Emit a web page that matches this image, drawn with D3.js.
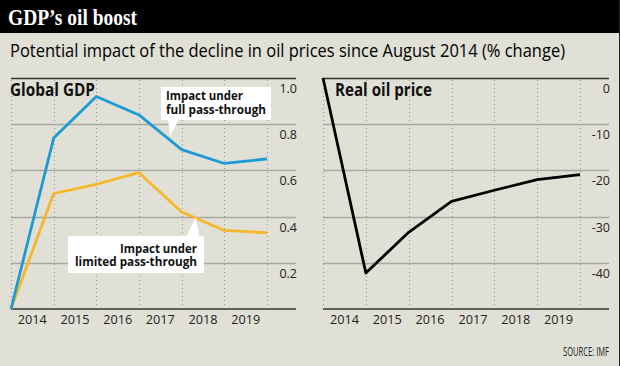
<!DOCTYPE html>
<html>
<head>
<meta charset="utf-8">
<script src="https://cdn.jsdelivr.net/npm/d3@7"></script>
<style>
  html, body { margin: 0; padding: 0; background: #e1e0d6; }
  svg { display: block; font-family: "Open Sans", sans-serif; }
</style>
</head>
<body>
<div id="chart"></div>
<script>
// Data
const boundaries = [2014, 2015, 2016, 2017, 2018, 2019, 2020];
const yearLabels = ['2014', '2015', '2016', '2017', '2018', '2019'];
const fullPassThrough = [0, 0.74, 0.92, 0.84, 0.69, 0.63, 0.65];
const limitedPassThrough = [0, 0.50, 0.54, 0.59, 0.42, 0.34, 0.33];
const oilPrice = [0, -42.2, -33.4, -26.7, -24.3, -22.0, -20.9];
const gdpTicks = [0.2, 0.4, 0.6, 0.8, 1.0];
const oilTicks = [-40, -30, -20, -10, 0];

const width = 620, height = 366;
const bg = '#e1e0d6';

const svg = d3.select('#chart')
    .append('svg')
    .attr('width', width)
    .attr('height', height);

svg.append('rect')
    .attr('width', width)
    .attr('height', height)
    .attr('fill', bg);

// Title bar
svg.append('rect')
    .attr('width', width)
    .attr('height', 33)
    .attr('fill', '#000');

svg.append('text')
    .attr('x', 8)
    .attr('y', 25)
    .attr('fill', '#fff')
    .style('font-family', '"Liberation Serif", serif')
    .style('font-weight', 'bold')
    .style('font-size', '24px')
    .attr('textLength', 129)
    .attr('lengthAdjust', 'spacingAndGlyphs')
    .text('GDP\u2019s oil boost');

svg.append('text')
    .attr('x', 10)
    .attr('y', 57)
    .attr('fill', '#000')
    .style('font-size', '18px')
    .style('font-weight', 500)
    .attr('textLength', 555)
    .attr('lengthAdjust', 'spacingAndGlyphs')
    .text('Potential impact of the decline in oil prices since August 2014 (% change)');

// right edge border
svg.append('line')
    .attr('x1', 619.5).attr('x2', 619.5)
    .attr('y1', 0).attr('y2', height)
    .attr('stroke', '#222')
    .attr('stroke-width', 1);

// Panel helper
function drawPanel(opts) {
    const x = d3.scaleLinear().domain([2014, 2020]).range([opts.x0, opts.x1]);
    const y = d3.scaleLinear().domain(opts.domain).range([309, 78]);
    const g = svg.append('g');

    // horizontal gridlines
    g.selectAll('.hgrid')
        .data(opts.ticks.filter(t => t !== opts.domain[1]))
        .enter()
        .append('line')
        .attr('x1', opts.x0).attr('x2', opts.axisEnd)
        .attr('y1', d => Math.round(y(d)) + 0.5)
        .attr('y2', d => Math.round(y(d)) + 0.5)
        .attr('stroke', '#a9a8a0')
        .attr('stroke-width', 1.5);

    // vertical dotted gridlines
    g.selectAll('.vgrid')
        .data(boundaries)
        .enter()
        .append('line')
        .attr('x1', d => Math.round(x(d)) + 0.5)
        .attr('x2', d => Math.round(x(d)) + 0.5)
        .attr('y1', 80).attr('y2', 308)
        .attr('stroke', '#9a9a92')
        .attr('stroke-width', 1)
        .attr('stroke-dasharray', '1,3');

    // top line
    g.append('line')
        .attr('x1', opts.x0).attr('x2', opts.axisEnd)
        .attr('y1', 78.5).attr('y2', 78.5)
        .attr('stroke', '#333')
        .attr('stroke-width', 1.5);

    // baseline
    g.append('line')
        .attr('x1', opts.x0).attr('x2', opts.axisEnd)
        .attr('y1', 309).attr('y2', 309)
        .attr('stroke', '#333')
        .attr('stroke-width', 1.5);

    // y tick labels
    g.selectAll('.ylab')
        .data(opts.ticks)
        .enter()
        .append('text')
        .attr('x', opts.axisEnd + 1)
        .attr('y', d => y(d) + 15)
        .attr('text-anchor', 'end')
        .attr('fill', '#222')
        .style('font-size', '12.5px')
        .text(opts.tickFormat);

    // x labels
    g.selectAll('.xlab')
        .data(yearLabels)
        .enter()
        .append('text')
        .attr('x', d => x(+d + 0.5))
        .attr('y', 324)
        .attr('text-anchor', 'middle')
        .attr('fill', '#222')
        .style('font-size', '13px')
        .attr('textLength', 29)
        .attr('lengthAdjust', 'spacingAndGlyphs')
        .text(d => d);

    // panel label
    g.append('text')
        .attr('x', opts.labelX)
        .attr('y', 96)
        .attr('fill', '#111')
        .style('font-size', '17px')
        .style('font-weight', 'bold')
        .attr('textLength', opts.labelW)
        .attr('lengthAdjust', 'spacingAndGlyphs')
        .text(opts.label);

    return { x, y, g };
}

const line = (x, y) => d3.line()
    .x((d, i) => x(boundaries[i]))
    .y(d => y(d));

// Left panel: Global GDP
const left = drawPanel({
    x0: 11, x1: 267, axisEnd: 296,
    domain: [0, 1], ticks: gdpTicks,
    tickFormat: d => d.toFixed(1),
    label: 'Global GDP', labelX: 10, labelW: 85
});

left.g.append('path')
    .datum(limitedPassThrough)
    .attr('fill', 'none')
    .attr('stroke', '#f6b72a')
    .attr('stroke-width', 2.8)
    .attr('stroke-linejoin', 'round')
    .attr('d', line(left.x, left.y));

left.g.append('path')
    .datum(fullPassThrough)
    .attr('fill', 'none')
    .attr('stroke', '#1b9ad6')
    .attr('stroke-width', 2.8)
    .attr('stroke-linejoin', 'round')
    .attr('d', line(left.x, left.y));

// Annotation boxes
function callout(box, pointer, lines, anchor, textX, baselines) {
    const g = svg.append('g');
    g.append('rect')
        .attr('x', box[0]).attr('y', box[1])
        .attr('width', box[2]).attr('height', box[3])
        .attr('fill', '#fff');
    g.append('path')
        .attr('d', d3.line()(pointer) + 'Z')
        .attr('fill', '#fff');
    g.selectAll('text')
        .data(lines)
        .enter()
        .append('text')
        .attr('x', textX)
        .attr('y', (d, i) => baselines[i])
        .attr('text-anchor', anchor)
        .attr('fill', '#111')
        .style('font-size', '12.5px')
        .style('font-weight', 'bold')
        .attr('textLength', d => d.w)
        .attr('lengthAdjust', 'spacingAndGlyphs')
        .text(d => d.t);
}

callout([161, 87, 110, 33], [[168, 119], [179, 119], [170, 137]],
    [{ t: 'Impact under', w: 77 }, { t: 'full pass-through', w: 100 }],
    'start', 166, [100, 113.5]);

callout([68, 236, 136, 37], [[186, 237], [199, 237], [196, 217]],
    [{ t: 'Impact under', w: 77 }, { t: 'limited pass-through', w: 122 }],
    'end', 197, [252.5, 266]);

// Right panel: Real oil price
const right = drawPanel({
    x0: 323, x1: 580, axisEnd: 609,
    domain: [-50, 0], ticks: oilTicks,
    tickFormat: d => d,
    label: 'Real oil price', labelX: 335, labelW: 97
});

right.g.append('path')
    .datum(oilPrice)
    .attr('fill', 'none')
    .attr('stroke', '#000')
    .attr('stroke-width', 2.8)
    .attr('stroke-linejoin', 'round')
    .attr('d', line(right.x, right.y));

// Source
svg.append('text')
    .attr('x', 609)
    .attr('y', 356)
    .attr('text-anchor', 'end')
    .attr('fill', '#222')
    .style('font-size', '12px')
    .attr('textLength', 46)
    .attr('lengthAdjust', 'spacingAndGlyphs')
    .text('SOURCE: IMF');
</script>
</body>
</html>
